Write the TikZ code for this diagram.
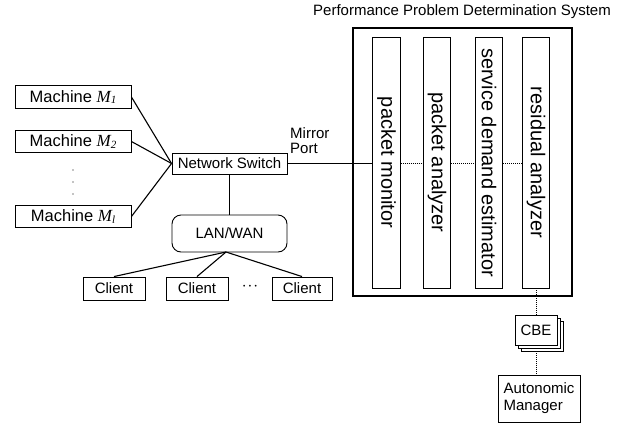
\documentclass[tikz,border=0pt]{standalone}
\usepackage{fontspec}
\setmainfont{Liberation Sans}
\newfontfamily\tms{Liberation Serif}
\usetikzlibrary{shadows}
\newcommand{\mach}[1]{Machine {\tms\itshape\fontsize{17}{17}\selectfont M\raisebox{-1.5pt}{\fontsize{11}{11}\selectfont #1}}}
\begin{document}
\begin{tikzpicture}[x=1pt,y=-1pt,
  every node/.style={font=\fontsize{15}{17}\selectfont, inner sep=0pt},
  box/.style={draw, line width=0.9pt, fill=white},
  link/.style={line width=1.1pt},
  dotlink/.style={line width=1pt, dash pattern=on 1pt off 1pt},
  vbox/.style={draw, line width=0.7pt, minimum width=27.5pt, minimum height=251pt},
  vtext/.style={rotate=-90, font=\fontsize{20}{22}\selectfont}]
\useasboundingbox (0,0) rectangle (639,426);

% machines
\node[box, minimum width=116pt, minimum height=22.5pt, font=\fontsize{16.5}{18}\selectfont] (m1) at (73,97) {\mach{1}};
\node[box, minimum width=116pt, minimum height=22.5pt, font=\fontsize{16.5}{18}\selectfont] (m2) at (73,141.5) {\mach{2}};
\node[box, minimum width=116pt, minimum height=22.5pt, font=\fontsize{16.5}{18}\selectfont] (ml) at (73,216.5) {\mach{l}};
\foreach \yy in {170,182,194} \fill (73,\yy) circle (0.7pt);

% switch and network
\node[box, minimum width=115pt, minimum height=21pt] (sw) at (229.5,163.5) {Network Switch};
\node[box, rounded corners=9pt, minimum width=115pt, minimum height=37pt] (lan) at (229.5,233.5) {LAN/WAN};
\node[box, minimum width=62pt, minimum height=23pt] (c1) at (114,288.5) {Client};
\node[box, minimum width=62pt, minimum height=23pt] (c2) at (197,288.5) {Client};
\node[box, minimum width=60pt, minimum height=23pt] (c3) at (302,288.5) {Client};
\node (cd) at (250,287) {\fontsize{16}{16}\selectfont\textbf{$\cdot\!\cdot\!\cdot$}};
\coordinate (lb) at (226,252);

\draw[link] (m1.east) -- (sw.west);
\draw[link] (m2.east) -- (sw.west);
\draw[link] (ml.east) -- (sw.west);
\draw[link] (sw.south) -- (lan.north);
\draw[link] (lb) -- (c1.north);
\draw[link] (lb) -- (c2.north);
\draw[link] (lb) -- (c3.north);

% performance problem determination system
\node (title) at (462,12) {\fontsize{15}{17}\selectfont Performance Problem Determination System};
\node[draw, line width=1.3pt, minimum width=219pt, minimum height=268pt] (pp) at (462.5,162) {};
\node[vbox] (pm) at (386.5,162.5) {};
\node[vbox] (pa) at (437,162.5) {};
\node[vbox] (se) at (489,162.5) {};
\node[vbox] (ra) at (536,162.5) {};
\node[vtext] at (pm) {packet monitor};
\node[vtext] at (pa) {packet analyzer};
\node[vtext] at (se) {service demand estimator};
\node[vtext] at (ra) {residual analyzer};

\node[align=left, anchor=west] (mp) at (290,141) {Mirror\\[-2pt]Port};
\draw[link] (sw.east) -- (pm.west |- sw.east);
\draw[dotlink] (pm.east |- sw.east) -- (pa.west |- sw.east);
\draw[dotlink] (pa.east |- sw.east) -- (se.west |- sw.east);
\draw[dotlink] (se.east |- sw.east) -- (ra.west |- sw.east);

% common base event and autonomic manager
\node[box, double copy shadow={shadow xshift=3pt, shadow yshift=-3pt}, minimum width=42pt, minimum height=30pt] (cbe) at (536,330) {CBE};
\node[box, align=left, minimum width=82pt, minimum height=47pt] (am) at (539,398.5) {Autonomic\\Manager};
\draw[dotlink] (ra.south) -- (cbe.north);
\draw[dotlink] ([yshift=-6pt]cbe.south) -- (am.north -| cbe.south);
\end{tikzpicture}
\end{document}
